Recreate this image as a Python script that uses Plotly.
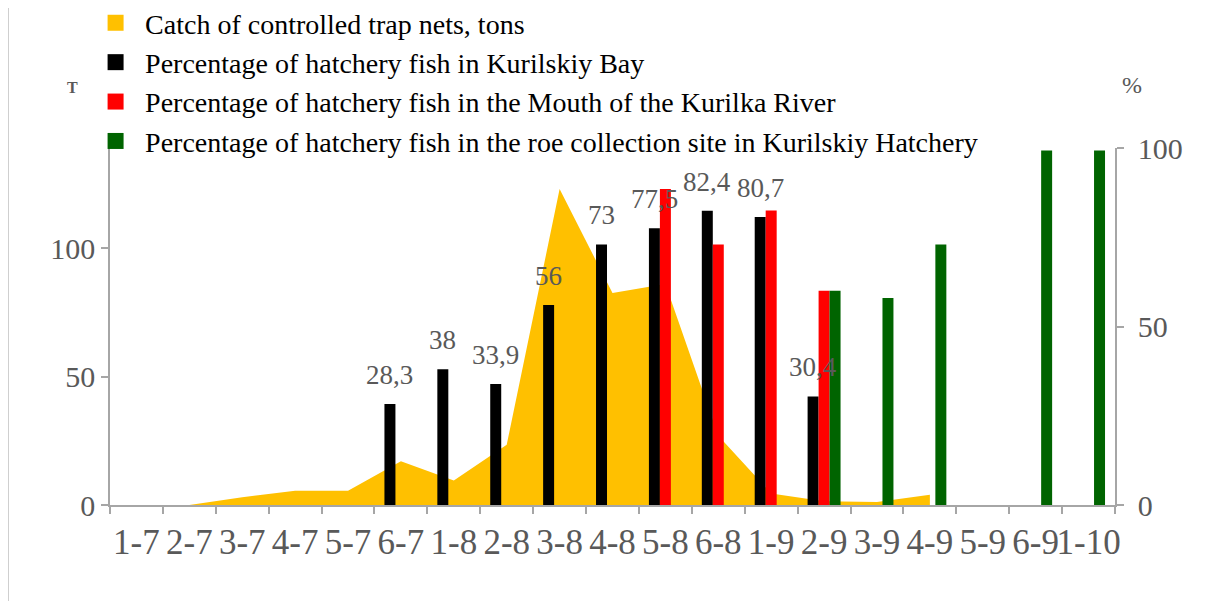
import plotly.graph_objects as go

# ---------------- data ----------------
categories = ["1-7", "2-7", "3-7", "4-7", "5-7", "6-7",
              "1-8", "2-8", "3-8", "4-8", "5-8", "6-8",
              "1-9", "2-9", "3-9", "4-9", "5-9", "6-9", "1-10"]

catch_tons = [0, 0, 3, 5.5, 5.5, 17, 9.5, 23.5, 123, 82.5, 86, 27,
              4.5, 1.5, 1.2, 4, None, None, None]

pct_kurilskiy_bay = [None, None, None, None, None, 28.3, 38, 33.9, 56, 73, 77.5, 82.4,
                     80.7, 30.4, None, None, None, None, None]

pct_kurilka_mouth = [None, None, None, None, None, None, None, None, None, None, 88.5, 73,
                     82.5, 60, None, None, None, None, None]

pct_roe_site = [None, None, None, None, None, None, None, None, None, None, None, None,
                None, 60, 58, 73, None, 99.3, 99.3]

series_names = ["Catch of controlled trap nets, tons",
                "Percentage of hatchery fish in Kurilskiy Bay",
                "Percentage of hatchery fish in the Mouth of the Kurilka River",
                "Percentage of hatchery fish in the roe collection site in Kurilskiy Hatchery"]
series_colors = ["#FFC000", "#000000", "#FF0000", "#006400"]

left_ticks = [0, 50, 100]
right_ticks = [0, 50, 100]

# ---------------- figure ----------------
SERIF = "Liberation Serif"
GRAY_TXT = "#595959"
AXIS_GRAY = "#A6A6A6"

fig = go.Figure()

# area (left axis)
fig.add_trace(go.Scatter(
    x=categories, y=catch_tons, mode="lines", fill="tozeroy",
    line=dict(width=0, color=series_colors[0]), fillcolor=series_colors[0],
    connectgaps=False, showlegend=False, yaxis="y", hoverinfo="x+y"))

# bars (right axis)
for vals, name, col in zip([pct_kurilskiy_bay, pct_kurilka_mouth, pct_roe_site],
                           series_names[1:], series_colors[1:]):
    fig.add_trace(go.Bar(x=categories, y=vals, name=name, marker_color=col,
                         marker_line_width=0, yaxis="y2", showlegend=False))

# legend entries (square swatches)
for name, col in zip(series_names, series_colors):
    fig.add_trace(go.Scatter(x=[None], y=[None], mode="markers", name=name,
                             marker=dict(symbol="square", size=16, color=col),
                             showlegend=True))

# data labels for Kurilskiy Bay bars
annotations = []
for c, v in zip(categories, pct_kurilskiy_bay):
    if v is None:
        continue
    annotations.append(dict(
        x=c, y=v, xref="x", yref="y2", text=f"{v:g}".replace(".", ","),
        showarrow=False, xshift=-11, yshift=29, yanchor="middle",
        font=dict(family=SERIF, size=27, color=GRAY_TXT)))

# axis unit titles
annotations.append(dict(x=-0.045, y=1.198, xref="paper", yref="paper", text="<b>T</b>",
                        showarrow=False, font=dict(family=SERIF, size=16, color=GRAY_TXT)))
annotations.append(dict(x=1.029, y=1.218, xref="paper", yref="paper", text="%",
                        showarrow=False, font=dict(family=SERIF, size=24, color=GRAY_TXT)))

fig.update_layout(
    width=1206, height=601,
    margin=dict(l=102, r=99, t=140, b=104, autoexpand=False),
    paper_bgcolor="white", plot_bgcolor="white",
    barmode="group", bargap=0.377, bargroupgap=0,
    font=dict(family=SERIF, color=GRAY_TXT),
    legend=dict(x=-0.0238, y=1.42, xanchor="left", yanchor="top",
                bgcolor="rgba(0,0,0,0)",
                font=dict(family=SERIF, size=28, color="#000000"),
                itemwidth=49, traceorder="normal", tracegroupgap=0),
    xaxis=dict(type="category", categoryorder="array", categoryarray=categories,
               range=[-0.5, len(categories) - 0.5], tickson="boundaries",
               ticks="outside", ticklen=7, tickcolor=AXIS_GRAY, tickwidth=1.5,
               showline=True, linecolor=AXIS_GRAY, linewidth=1.5, showgrid=False,
               ticklabelstandoff=5,
               tickfont=dict(family=SERIF, size=35, color=GRAY_TXT), tickangle=0),
    yaxis=dict(range=[0, 139], tickvals=left_ticks, ticks="outside", ticklen=7,
               tickcolor=AXIS_GRAY, tickwidth=1.5, showline=True, linecolor=AXIS_GRAY,
               linewidth=1.5, showgrid=False, zeroline=False, ticklabelstandoff=0,
               tickfont=dict(family=SERIF, size=30, color=GRAY_TXT)),
    yaxis2=dict(range=[0, 100], tickvals=right_ticks, overlaying="y", side="right",
                ticks="outside", ticklen=7, tickcolor=AXIS_GRAY, tickwidth=1.5,
                showline=True, linecolor=AXIS_GRAY, linewidth=1.5, showgrid=False,
                zeroline=False, ticklabelstandoff=8,
                tickfont=dict(family=SERIF, size=30, color=GRAY_TXT)),
    annotations=annotations,
    shapes=[
        dict(type="line", xref="paper", yref="paper", x0=-0.1015, x1=-0.1015,
             y0=-0.27, y1=1.40, line=dict(color="#BFBFBF", width=1.5)),
        dict(type="line", xref="paper", yref="paper", x0=-0.1015, x1=1.2,
             y0=1.40, y1=1.40, line=dict(color="#BFBFBF", width=1.5)),
    ],
)

fig.write_html("out.html")
